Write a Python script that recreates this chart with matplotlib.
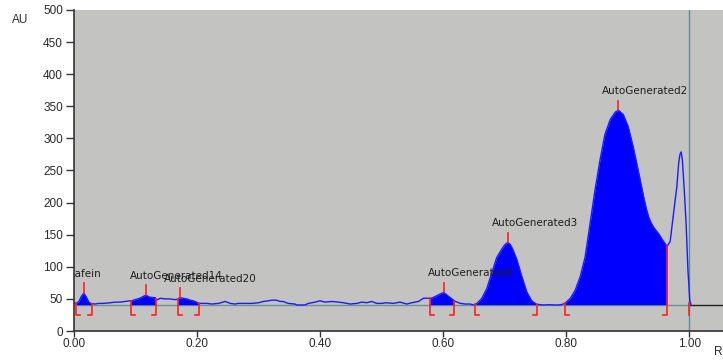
import numpy as np
import matplotlib
matplotlib.use("Agg")
import matplotlib.pyplot as plt

# Densitogram trace: migration distance (Rf) and detector response (AU)
rf = [0.000, 0.004, 0.008, 0.012, 0.016, 0.020, 0.024, 0.027, 0.034, 0.041,
      0.048, 0.059, 0.067, 0.075, 0.083, 0.091, 0.094, 0.100, 0.107, 0.113,
      0.117, 0.122, 0.128, 0.132, 0.134, 0.140, 0.148, 0.156, 0.163, 0.167,
      0.172, 0.177, 0.183, 0.189, 0.194, 0.199, 0.202, 0.208, 0.216, 0.224,
      0.235, 0.246, 0.254, 0.262, 0.267, 0.278, 0.289, 0.300, 0.308, 0.316,
      0.321, 0.329, 0.335, 0.340, 0.348, 0.359, 0.362, 0.375, 0.381, 0.392,
      0.400, 0.408, 0.419, 0.430, 0.438, 0.449, 0.460, 0.468, 0.476, 0.484,
      0.492, 0.500, 0.508, 0.519, 0.530, 0.541, 0.549, 0.560, 0.568, 0.576,
      0.581, 0.590, 0.596, 0.601, 0.605, 0.609, 0.613, 0.617, 0.620, 0.628,
      0.636, 0.644, 0.650, 0.652, 0.655, 0.663, 0.671, 0.679, 0.687, 0.695,
      0.700, 0.705, 0.709, 0.713, 0.720, 0.728, 0.736, 0.744, 0.752, 0.764,
      0.772, 0.785, 0.792, 0.798, 0.807, 0.815, 0.823, 0.831, 0.839, 0.847,
      0.855, 0.863, 0.872, 0.880, 0.885, 0.893, 0.901, 0.909, 0.917, 0.926,
      0.930, 0.934, 0.938, 0.942, 0.950, 0.958, 0.964, 0.969, 0.974, 0.980,
      0.983, 0.985, 0.987, 0.989, 0.992, 0.995, 0.998, 1.001, 1.003]
au = [44, 43, 46, 54, 59, 53, 45, 43, 42, 43,
      43, 44, 45, 45, 46, 47, 47, 49, 51, 54,
      56, 53, 52, 52, 48, 51, 50, 50, 49, 49,
      52, 51, 50, 48, 47, 45, 43, 43, 43, 42,
      43, 46, 43, 42, 43, 43, 43, 44, 46, 47,
      48, 48, 46, 46, 43, 42, 40.5, 40.5, 43, 45,
      47, 45, 46, 45, 44, 42, 43, 45, 44, 46,
      43, 43, 44, 43, 45, 42, 44, 46, 51, 51,
      51, 55, 58, 60, 57, 54, 51, 48, 46, 43,
      42, 42, 40.5, 41.5, 43, 51, 66, 90, 114, 127,
      134, 138, 135, 128, 111, 85, 61, 47, 41.5, 40.5,
      41, 40.5, 41, 43, 51, 64, 85, 116, 168, 220,
      266, 306, 330, 341, 344, 337, 318, 287, 251, 209,
      192, 178, 169, 162, 152, 140, 132, 139, 178, 225,
      262, 275, 279, 266, 220, 168, 95, 48, 40.5]

# Integrated peaks: name, apex Rf, integration start, integration end
peak_names = ["Kafein", "AutoGenerated14", "AutoGenerated20", "AutoGenerated0",
              "AutoGenerated3", "AutoGenerated2"]
peak_rf = [0.016, 0.117, 0.172, 0.601, 0.705, 0.885]
peak_start = [0.004, 0.092, 0.169, 0.579, 0.652, 0.798]
peak_end = [0.029, 0.133, 0.204, 0.618, 0.752, 0.964]

baseline = 41
front_rf = 1.0

x_ticks = [0.0, 0.2, 0.4, 0.6, 0.8, 1.0]
y_ticks = [0, 50, 100, 150, 200, 250, 300, 350, 400, 450, 500]

rf = np.array(rf)
au = np.array(au, dtype=float)

fig = plt.figure(figsize=(7.23, 3.60), dpi=100)
ax = fig.add_axes([74 / 723, 29 / 360, 1 - 74 / 723, 321 / 360])
ax.set_facecolor("#c3c3c1")
ax.set_xlim(0, 1.055)
ax.set_ylim(0, 500)

# baseline and solvent front
ax.plot([0, front_rf], [baseline, baseline], color="#6e9191", lw=1, zorder=2)
ax.plot([front_rf, 1.055], [baseline, baseline], color="#202020", lw=1, zorder=2)
ax.axvline(front_rf, color="#5e8c8c", lw=1, zorder=2)

# filled integration areas
for s, e in zip(peak_start, peak_end):
    inside = (rf > s) & (rf < e)
    xs = np.concatenate([[s], rf[inside], [e]])
    ys = np.concatenate([[np.interp(s, rf, au)], au[inside], [np.interp(e, rf, au)]])
    ax.fill_between(xs, baseline, ys, color="#0000ff", lw=0, zorder=3)

ax.plot(rf, au, color="#1a1aff", lw=1, zorder=4)

# integration brackets
foot = 0.0065
low = 25
red = "#ff2020"
for s, e in zip(peak_start, peak_end):
    ys = np.interp(s, rf, au)
    ye = np.interp(e, rf, au)
    ax.plot([s, s, s + foot], [ys, low, low], color=red, lw=1.2, zorder=5)
    ax.plot([e, e, e - foot], [ye, low, low], color=red, lw=1.2, zorder=5)
ax.plot([front_rf, front_rf], [baseline + 2, low], color=red, lw=1.2, zorder=5)

# apex markers and peak names
for name, p in zip(peak_names, peak_rf):
    top = np.interp(p, rf, au)
    ax.plot([p, p], [top, top + 15], color=red, lw=1.2, zorder=5)
    ax.annotate(name, xy=(p, top), xytext=(-16, 19), textcoords="offset pixels",
                ha="left", va="center", fontsize=7.5, color="#1e1e1e",
                family="DejaVu Sans", zorder=6, annotation_clip=False,
                clip_on=True)

ax.set_xticks(x_ticks)
ax.set_xticklabels([f"{t:.2f}" for t in x_ticks])
ax.set_yticks(y_ticks)
for lab in ax.get_xticklabels() + ax.get_yticklabels():
    lab.set_family("Liberation Sans")
    lab.set_fontsize(8.5)
    lab.set_color("#2a2a2a")
ax.tick_params(axis="y", direction="out", length=6, width=1, pad=2, colors="#333333",
               labelcolor="#2a2a2a")
ax.tick_params(axis="x", direction="out", length=4, width=1, pad=1, colors="#333333",
               labelcolor="#2a2a2a")

for side in ("top", "right"):
    ax.spines[side].set_visible(False)
for side in ("left", "bottom"):
    ax.spines[side].set_color("#333333")
    ax.spines[side].set_linewidth(1.2)

fig.text(20 / 723, 1 - 20 / 360, "AU", ha="center", va="center", fontsize=8.5,
         family="Liberation Sans", color="#2a2a2a")
fig.text(718 / 723, 1 - 352 / 360, "R", ha="center", va="center", fontsize=8.5,
         family="Liberation Sans", color="#2a2a2a")

fig.savefig("out.png", dpi=100, facecolor="white")
